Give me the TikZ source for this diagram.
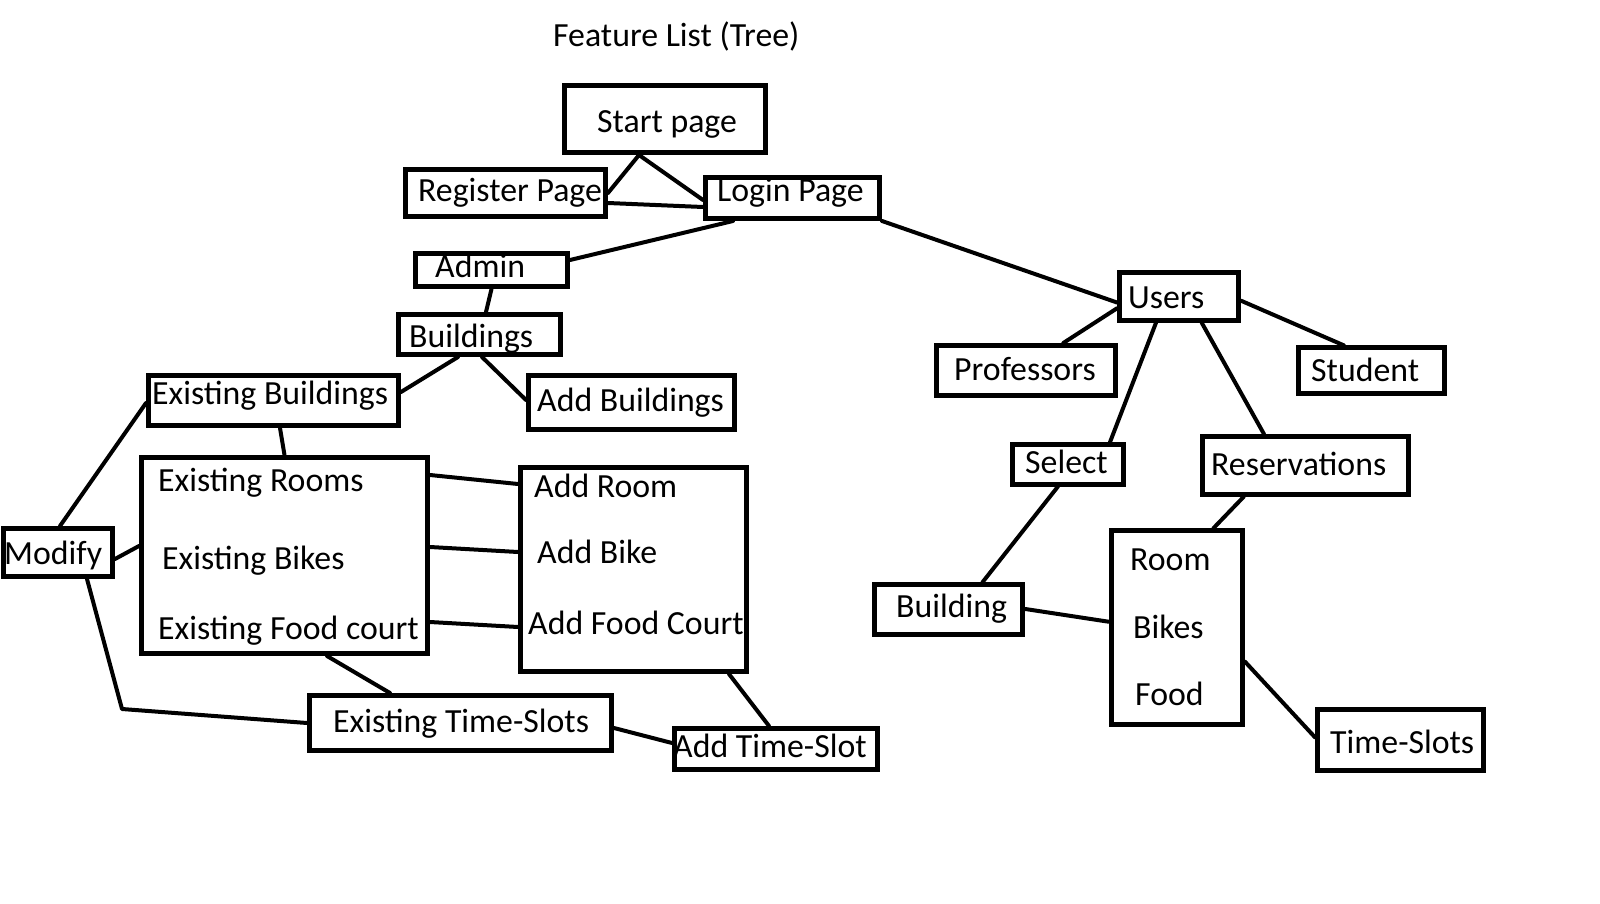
\documentclass[tikz,border=0pt]{standalone}
\usepackage{fontspec}
\setmainfont{Carlito}
\begin{document}
\begin{tikzpicture}[x=1pt,y=-1pt,
  box/.style={draw=black,line width=5pt,rectangle,inner sep=0pt},
  lbl/.style={anchor=base west,inner sep=0pt,yshift=-2pt,font=\fontsize{33.8}{40}\selectfont},
  conn/.style={draw=black,line width=4pt,line cap=round,line join=round}]
\useasboundingbox[fill=white] (0,0) rectangle (1600,904);
\newcommand\mkbox[5]{\node[box,minimum width={#4-#2-5},minimum height={#5-#3-5}] (#1) at ({(#2+#4)/2},{(#3+#5)/2}) {};}
% title
\node[lbl] (title) at (553,45) {Feature List (Tree)};
% boxes
\mkbox{start}{562}{83}{768}{155}
\mkbox{reg}{403}{167}{608}{219}
\mkbox{login}{703}{175}{882}{221}
\mkbox{admin}{413}{251}{570}{289}
\mkbox{bldgs}{396}{312}{563}{357}
\mkbox{addb}{526}{373}{737}{432}
\mkbox{exb}{146}{373}{401}{428}
\mkbox{exr}{139}{455}{430}{656}
\mkbox{addr}{518}{465}{749}{674}
\mkbox{modify}{1}{526}{115}{579}
\mkbox{exts}{307}{693}{614}{753}
\mkbox{addts}{672}{726}{880}{772}
\mkbox{users}{1117}{269.5}{1241}{322.7}
\mkbox{prof}{934}{343}{1118}{397.7}
\mkbox{student}{1296}{345.3}{1447}{396}
\mkbox{select}{1010}{442}{1125.7}{486.5}
\mkbox{resv}{1199.5}{434}{1411}{496.8}
\mkbox{building}{872}{582.3}{1025.3}{637}
\mkbox{rbf}{1108.5}{528.3}{1245}{726.7}
\mkbox{ts}{1315}{707.3}{1486}{772.7}
% labels
\node[lbl] (t-start) at (597,131) {Start page};
\node[lbl] (t-reg) at (418,199) {Register Page};
\node[lbl] (t-login) at (717,199) {Login Page};
\node[lbl] (t-admin) at (435,275) {Admin};
\node[lbl] (t-bldgs) at (409,345) {Buildings};
\node[lbl] (t-addb) at (537,409) {Add Buildings};
\node[lbl] (t-exb) at (152,402) {Existing Buildings};
\node[lbl] (t-exr1) at (158,489) {Existing Rooms};
\node[lbl] (t-exr2) at (162,567) {Existing Bikes};
\node[lbl] (t-exr3) at (158,637) {Existing Food court};
\node[lbl] (t-addr1) at (534,495) {Add Room};
\node[lbl] (t-addr2) at (537,561) {Add Bike};
\node[lbl] (t-addr3) at (528,632) {Add Food Court};
\node[lbl] (t-modify) at (4,562) {Modify};
\node[lbl] (t-exts) at (333,730) {Existing Time-Slots};
\node[lbl] (t-addts) at (673,755) {Add Time-Slot};
\node[lbl] (t-users) at (1128,306) {Users};
\node[lbl] (t-prof) at (954,378) {Professors};
\node[lbl] (t-student) at (1311,379) {Student};
\node[lbl] (t-select) at (1025,471.5) {Select};
\node[lbl] (t-resv) at (1211,473) {Reservations};
\node[lbl] (t-building) at (896,615.8) {Building};
\node[lbl] (t-rbf1) at (1130,568.3) {Room};
\node[lbl] (t-rbf2) at (1133,636.7) {Bikes};
\node[lbl] (t-rbf3) at (1135,703.3) {Food};
\node[lbl] (t-ts) at (1330,751.7) {Time-Slots};
% connectors
\coordinate (bend) at (122,709);
\draw[conn] ([xshift=-26]start.south) -- (reg.east);
\draw[conn] ([xshift=-26]start.south) -- ([yshift=-2]login.west);
\draw[conn] ([yshift=-10]reg.east) -- ([yshift=-9]login.west);
\draw[conn] ([xshift=-59.5]login.south) -- ([yshift=10]admin.east);
\draw[conn] (login.south east) -- ([yshift=-6.4]users.west);
\draw[conn] (admin.south) -- ([xshift=6.5]bldgs.north);
\draw[conn] ([xshift=-21.5]bldgs.south) -- ([yshift=8.5]exb.east);
\draw[conn] ([xshift=2.5]bldgs.south) -- ([yshift=2.5]addb.west);
\draw[conn] ([xshift=6.5]exb.south) -- (exr.north);
\draw[conn] ([yshift=-2.5]exb.west) -- ([xshift=2]modify.north);
\draw[conn] ([yshift=-6.5]modify.east) -- ([yshift=9.5]exr.west);
\draw[conn] ([xshift=29]modify.south) -- (bend) -- (exts.west);
\draw[conn] ([yshift=80.5]exr.east) -- ([yshift=85.5]addr.west);
\draw[conn] ([yshift=8.5]exr.east) -- ([yshift=17.5]addr.west);
\draw[conn] ([yshift=-66.5]exr.east) -- ([yshift=-57.5]addr.west);
\draw[conn] ([xshift=42.5]exr.south) -- ([xshift=-70.5]exts.north);
\draw[conn] ([xshift=95.5]addr.south) -- ([xshift=-7]addts.north);
\draw[conn] ([yshift=-5]exts.east) -- ([yshift=6]addts.west);
\draw[conn] ([yshift=-12.2]users.west) -- ([xshift=37.3]prof.north);
\draw[conn] ([xshift=-23]users.south) -- ([xshift=42.2]select.north);
\draw[conn] ([xshift=22.7]users.south) -- ([xshift=-41.3]resv.north);
\draw[conn] ([yshift=-4.6]users.east) -- ([xshift=-27.8]student.north);
\draw[conn] ([xshift=-9.9]select.south) -- ([xshift=33.8]building.north);
\draw[conn] ([xshift=-61.6]resv.south) -- ([xshift=36.6]rbf.north);
\draw[conn] ([yshift=0.65]building.east) -- ([yshift=5.8]rbf.west);
\draw[conn] ([yshift=-34.2]rbf.east) -- ([yshift=2.7]ts.west);
\end{tikzpicture}
\end{document}
